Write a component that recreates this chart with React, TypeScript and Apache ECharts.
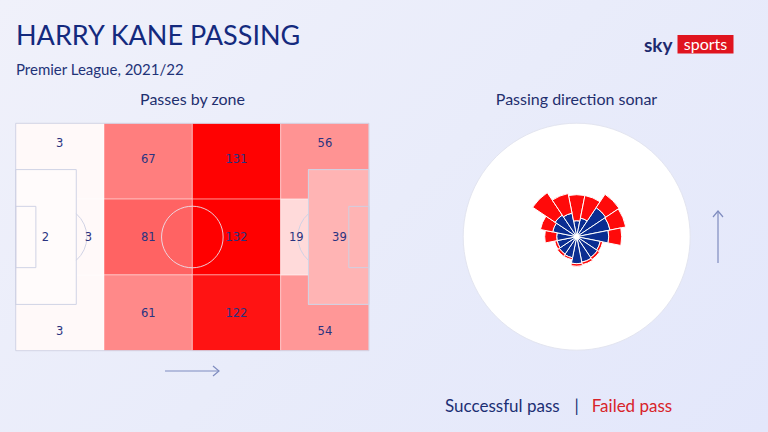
import React, { useEffect, useRef } from 'react';
import * as echarts from 'echarts';

// ---------- Passes by zone ----------
const zoneNames = [
  'Own third top', 'Own third bottom', 'Own box edge', 'Own box',
  'Def-mid left', 'Def-mid centre', 'Def-mid right',
  'Att-mid left', 'Att-mid centre', 'Att-mid right',
  'Final third top', 'Final third bottom', 'Opp box edge', 'Opp box',
];
const zoneValues = [3, 3, 3, 2, 67, 81, 61, 131, 132, 122, 56, 54, 19, 39];
// zone extents on a 105 x 68 pitch: x0, x1, y0, y1 (y from top)
const zoneExtents = [
  [0, 26.25, 0, 22.667],
  [0, 26.25, 45.333, 68],
  [18, 26.25, 22.667, 45.333],
  [0, 18, 13.84, 54.16],
  [26.25, 52.5, 0, 22.667],
  [26.25, 52.5, 22.667, 45.333],
  [26.25, 52.5, 45.333, 68],
  [52.5, 78.75, 0, 22.667],
  [52.5, 78.75, 22.667, 45.333],
  [52.5, 78.75, 45.333, 68],
  [78.75, 105, 0, 22.667],
  [78.75, 105, 45.333, 68],
  [78.75, 87, 22.667, 45.333],
  [87, 105, 13.84, 54.16],
];
// where each zone's number sits (pitch metres)
const zoneLabelAnchors = [
  [13.1, 5.8], [13.1, 62.2], [21.6, 34], [8.8, 34],
  [39.4, 10.8], [39.4, 34], [39.4, 56.8],
  [65.6, 10.8], [65.6, 34], [65.6, 56.8],
  [91.9, 5.8], [91.9, 62.2], [83.4, 34], [96.2, 34],
];

// ---------- Passing direction sonar ----------
const directions = ['N', 'NNE', 'NE', 'ENE', 'E', 'ESE', 'SE', 'SSE', 'S', 'SSW', 'SW', 'WSW', 'W', 'WNW', 'NW', 'NNW'];
const successfulPasses = [13, 16, 32, 31, 29, 21, 22, 23, 24, 18.5, 18, 17, 17, 21.5, 23, 21];
const failedPasses = [26, 23, 16, 16, 13, 2.5, 2.5, 2.5, 2.5, 2, 2.5, 2.5, 12, 12.5, 27, 20];

const legendItems = ['Successful pass', 'Failed pass'];

const NAVY = '#142a7e';
const BLUE = '#0b2d91';
const RED = '#ff0a0a';
const LINE = 'rgba(205,209,228,0.95)';

export default function App() {
  const ref = useRef<HTMLDivElement>(null);

  useEffect(() => {
    if (!ref.current) return;
    const chart = echarts.init(ref.current, undefined, { renderer: 'svg' });

    const zoneData = zoneValues.map((v, i) => [...zoneExtents[i], v]);
    const labelData = zoneValues.map((v, i) => [...zoneLabelAnchors[i], v]);

    const option: any = {
      animation: false,
      backgroundColor: 'transparent',
      grid: { left: 15.7, top: 123.3, width: 353.3, height: 227.4, containLabel: false },
      xAxis: { type: 'value', min: 0, max: 105, show: false },
      yAxis: { type: 'value', min: 0, max: 68, inverse: true, show: false },
      visualMap: {
        show: false,
        type: 'continuous',
        min: 0,
        max: 132,
        dimension: 4,
        seriesIndex: 0,
        inRange: { color: ['#ffffff', '#ff0000'] },
      },
      polar: { center: [576.7, 236.7], radius: [3, 113.5] },
      angleAxis: {
        type: 'category',
        data: directions,
        startAngle: 101.25,
        clockwise: true,
        axisLine: { show: false },
        axisTick: { show: false },
        axisLabel: { show: false },
        splitLine: { show: false },
      },
      radiusAxis: {
        type: 'value',
        min: 0,
        max: 110.5,
        axisLine: { show: false },
        axisTick: { show: false },
        axisLabel: { show: false },
        splitLine: { show: false },
      },
      graphic: [
        { type: 'text', x: 16, y: 34, z: 10, style: { text: 'HARRY KANE PASSING', font: '27px Lato', fill: NAVY, align: 'left', verticalAlign: 'middle' } },
        { type: 'text', x: 16, y: 69, z: 10, style: { text: 'Premier League, 2021/22', font: '15px Lato', fill: '#1f3378', align: 'left', verticalAlign: 'middle' } },
        { type: 'text', x: 192.5, y: 98, z: 10, style: { text: 'Passes by zone', font: '16px Lato', fill: '#1f2f6e', align: 'center', verticalAlign: 'middle' } },
        { type: 'text', x: 576.5, y: 98, z: 10, style: { text: 'Passing direction sonar', font: '16px Lato', fill: '#1f2f6e', align: 'center', verticalAlign: 'middle' } },
        // logo
        { type: 'text', x: 672.5, y: 44, z: 10, style: { text: 'sky', font: 'bold 19px Lato', fill: '#1d2a6e', align: 'right', verticalAlign: 'middle' } },
        { type: 'rect', z: 10, shape: { x: 677.5, y: 35, width: 56, height: 18.5 }, style: { fill: '#e0141e' } },
        { type: 'text', x: 705.5, y: 43.5, z: 11, style: { text: 'sports', font: '16px Lato', fill: '#ffffff', align: 'center', verticalAlign: 'middle' } },
        // sonar backdrop
        { type: 'circle', z: 0, shape: { cx: 576.7, cy: 236.7, r: 113.5 }, style: { fill: '#ffffff', stroke: '#e3e5f0', lineWidth: 1 } },
        // direction arrows
        { type: 'line', z: 10, shape: { x1: 165, y1: 371, x2: 219, y2: 371 }, style: { stroke: '#7f8cbf', lineWidth: 1.2 } },
        { type: 'polyline', z: 10, shape: { points: [[213, 366], [219, 371], [213, 376]] }, style: { stroke: '#7f8cbf', lineWidth: 1.2, fill: 'none' } },
        { type: 'line', z: 10, shape: { x1: 718, y1: 263, x2: 718, y2: 211 }, style: { stroke: '#7f8cbf', lineWidth: 1.2 } },
        { type: 'polyline', z: 10, shape: { points: [[713, 217], [718, 211], [723, 217]] }, style: { stroke: '#7f8cbf', lineWidth: 1.2, fill: 'none' } },
        // legend
        { type: 'text', x: 445, y: 405, z: 10, style: { text: legendItems[0], font: '17px Lato', fill: '#1c2f74', align: 'left', verticalAlign: 'middle' } },
        { type: 'text', x: 576.5, y: 405, z: 10, style: { text: '|', font: '17px Lato', fill: '#1c2f74', align: 'center', verticalAlign: 'middle' } },
        { type: 'text', x: 591.7, y: 405, z: 10, style: { text: legendItems[1], font: '17px Lato', fill: '#d8232a', align: 'left', verticalAlign: 'middle' } },
      ],
      series: [
        {
          type: 'custom',
          name: 'zones',
          coordinateSystem: 'cartesian2d',
          silent: true,
          z: 2,
          encode: { x: [0, 1], y: [2, 3] },
          data: zoneData.map((d, i) => ({ name: zoneNames[i], value: d })),
          renderItem: (params: any, api: any) => {
            const p0 = api.coord([api.value(0), api.value(2)]);
            const p1 = api.coord([api.value(1), api.value(3)]);
            return {
              type: 'rect',
              shape: { x: p0[0], y: p0[1], width: p1[0] - p0[0], height: p1[1] - p0[1] },
              style: { fill: api.visual('color'), stroke: 'rgba(255,255,255,0.55)', lineWidth: 0.8 },
            };
          },
        },
        {
          type: 'custom',
          name: 'pitch',
          coordinateSystem: 'cartesian2d',
          silent: true,
          z: 3,
          data: [[52.5, 34]],
          renderItem: (params: any, api: any) => {
            const c = (x: number, y: number) => api.coord([x, y]);
            const rect = (x0: number, x1: number, y0: number, y1: number) => {
              const a = c(x0, y0);
              const b = c(x1, y1);
              return { type: 'rect', shape: { x: a[0], y: a[1], width: b[0] - a[0], height: b[1] - a[1] }, style: { fill: 'none', stroke: LINE, lineWidth: 1 } };
            };
            const r = api.size([9.15, 0])[0];
            const th = Math.acos(6 / 9.15);
            const centre = c(52.5, 34);
            const ls = c(12, 34);
            const rs = c(93, 34);
            return {
              type: 'group',
              children: [
                rect(0, 105, 0, 68),
                rect(0, 18, 13.84, 54.16),
                rect(0, 6, 24.84, 43.16),
                rect(87, 105, 13.84, 54.16),
                rect(99, 105, 24.84, 43.16),
                { type: 'circle', shape: { cx: centre[0], cy: centre[1], r }, style: { fill: 'none', stroke: 'rgba(235,225,235,0.9)', lineWidth: 1 } },
                { type: 'arc', shape: { cx: ls[0], cy: ls[1], r, startAngle: -th, endAngle: th, clockwise: true }, style: { fill: 'none', stroke: LINE, lineWidth: 1 } },
                { type: 'arc', shape: { cx: rs[0], cy: rs[1], r, startAngle: Math.PI - th, endAngle: Math.PI + th, clockwise: true }, style: { fill: 'none', stroke: LINE, lineWidth: 1 } },
              ],
            };
          },
        },
        {
          type: 'custom',
          name: 'zone labels',
          coordinateSystem: 'cartesian2d',
          silent: true,
          z: 4,
          data: labelData,
          renderItem: (params: any, api: any) => {
            const p = api.coord([api.value(0), api.value(1)]);
            return {
              type: 'text',
              x: p[0],
              y: p[1],
              style: { text: String(api.value(2)), font: '11.5px "DejaVu Sans"', fill: '#2a3380', align: 'center', verticalAlign: 'middle' },
            };
          },
        },
        {
          type: 'bar',
          name: legendItems[0],
          coordinateSystem: 'polar',
          stack: 'sonar',
          silent: true,
          z: 2,
          barCategoryGap: '0%',
          data: successfulPasses,
          itemStyle: { color: BLUE, borderColor: '#ffffff', borderWidth: 1 },
        },
        {
          type: 'bar',
          name: legendItems[1],
          coordinateSystem: 'polar',
          stack: 'sonar',
          silent: true,
          z: 2,
          barCategoryGap: '0%',
          data: failedPasses,
          itemStyle: { color: RED, borderColor: '#ffffff', borderWidth: 1 },
        },
      ],
    };

    chart.setOption(option);
    return () => chart.dispose();
  }, []);

  return (
    <div
      style={{
        position: 'fixed',
        left: 0,
        top: 0,
        width: 768,
        height: 432,
        background: 'linear-gradient(135deg, #f0f1fa 0%, #e9ecfa 50%, #e3e7fb 100%)',
      }}
    >
      <div ref={ref} style={{ width: 768, height: 432 }} />
    </div>
  );
}
